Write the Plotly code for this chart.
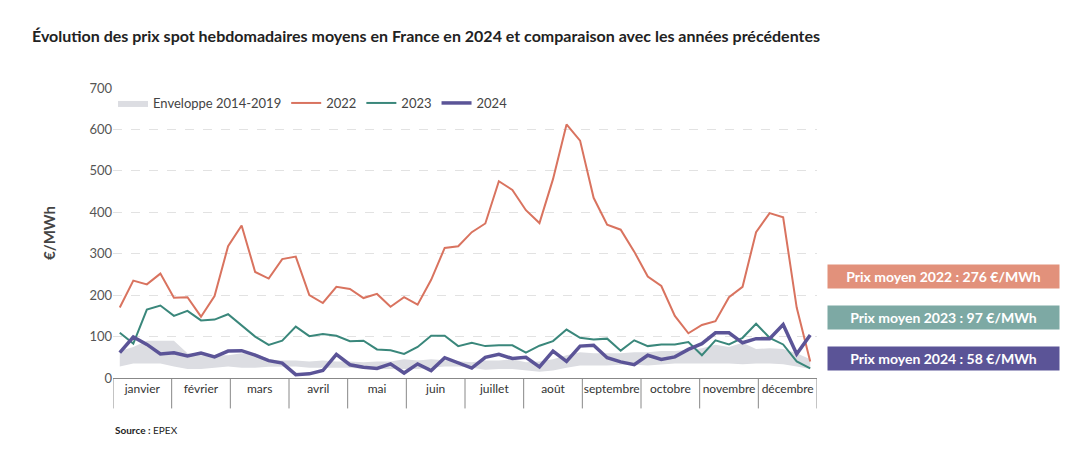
import plotly.graph_objects as go

months = ["janvier", "février", "mars", "avril", "mai", "juin", "juillet", "août",
          "septembre", "octobre", "novembre", "décembre"]
weeks = list(range(52))

p2022 = [170, 235, 226, 252, 194, 195, 148, 198, 318, 368, 256, 240, 287, 293, 200, 181, 220, 215,
         193, 203, 172, 195, 177, 237, 314, 318, 352, 373, 475, 454, 405, 374, 480, 612, 573, 435,
         370, 358, 305, 245, 222, 150, 108, 128, 137, 195, 220, 352, 398, 388, 170, 40]
p2023 = [109, 83, 165, 175, 150, 162, 139, 141, 154, 128, 100, 80, 90, 124, 101, 106, 102, 89,
         90, 69, 67, 58, 75, 102, 102, 77, 85, 77, 79, 79, 61, 78, 89, 117, 97, 93, 95, 66, 91, 77,
         81, 81, 87, 55, 91, 81, 97, 131, 97, 81, 40, 23]
p2024 = [61, 99, 81, 58, 61, 53, 60, 51, 65, 66, 55, 42, 36, 8, 10, 18, 57, 32, 26, 23, 34, 12,
         34, 18, 49, 36, 24, 50, 57, 47, 50, 27, 65, 40, 77, 79, 49, 39, 32, 55, 45, 51, 69, 83,
         109, 109, 85, 95, 95, 129, 58, 104]
env_low = [28, 35, 35, 35, 28, 22, 22, 25, 28, 25, 25, 27, 28, 28, 25, 25, 25, 25, 22, 22, 22, 22,
           22, 25, 28, 28, 25, 20, 22, 22, 18, 15, 18, 25, 30, 30, 30, 32, 32, 30, 32, 35, 35, 35,
           35, 35, 33, 35, 35, 33, 28, 22]
env_high = [65, 75, 90, 90, 90, 60, 55, 55, 55, 60, 60, 45, 42, 42, 40, 42, 40, 40, 38, 40, 40, 45,
            42, 45, 43, 40, 38, 42, 42, 45, 38, 40, 45, 55, 62, 60, 60, 60, 62, 62, 65, 65, 68, 72,
            80, 75, 85, 70, 72, 70, 60, 45]
averages = [("Prix moyen 2022 : 276 €/MWh", "#E2917B"),
            ("Prix moyen 2023 : 97 €/MWh", "#7DA9A4"),
            ("Prix moyen 2024 : 58 €/MWh", "#5B5497")]

FONT = "Lato"
fig = go.Figure()
fig.add_trace(go.Scatter(x=weeks, y=env_low, mode="lines", line=dict(width=0),
                         showlegend=False, hoverinfo="skip"))
fig.add_trace(go.Scatter(x=weeks, y=env_high, mode="lines", line=dict(width=0),
                         fill="tonexty", fillcolor="#DCDDE2", name="Enveloppe 2014-2019"))
fig.add_trace(go.Scatter(x=weeks, y=p2022, mode="lines", line=dict(color="#D9735F", width=2), name="2022"))
fig.add_trace(go.Scatter(x=weeks, y=p2023, mode="lines", line=dict(color="#3A877B", width=2), name="2023"))
fig.add_trace(go.Scatter(x=weeks, y=p2024, mode="lines", line=dict(color="#5B5497", width=3.5), name="2024"))

mw = 52 / 12
centers = [(i + 0.5) * mw - 0.5 for i in range(12)]
shapes = []
for i in range(13):
    xb = i * mw - 0.5
    shapes.append(dict(type="line", xref="x", yref="paper", x0=xb, x1=xb, y0=0, y1=-0.105,
                       line=dict(color="#888", width=1)))

fig.update_layout(
    width=1090, height=467, margin=dict(l=105, r=281, t=80, b=97),
    paper_bgcolor="white", plot_bgcolor="white",
    font=dict(family=FONT, color="#444", size=12),
    xaxis=dict(range=[-0.5, 51.5], tickvals=centers, ticktext=months, showgrid=False,
               showline=True, linecolor="#888", ticks="", zeroline=False,
               tickfont=dict(size=12, color="#333")),
    yaxis=dict(range=[0, 700], dtick=100, showgrid=True, gridcolor="#E2E2E2", griddash="dash",
               zeroline=False, ticks="", tickfont=dict(size=13, color="#555"),
               title=dict(text="<b>€/MWh</b>", font=dict(size=15, color="#444"), standoff=30)),
    legend=dict(orientation="h", x=0.0, y=1.0, xanchor="left", yanchor="top", traceorder="normal",
                font=dict(size=13, color="#444"), bgcolor="rgba(0,0,0,0)"),
    shapes=shapes,
    showlegend=True,
)
fig.add_annotation(text="<b>Évolution des prix spot hebdomadaires moyens en France en 2024 et comparaison avec les années précédentes</b>",
                   xref="paper", yref="paper", x=-0.118, y=1.18, xanchor="left", yanchor="middle",
                   showarrow=False, font=dict(size=16, color="#222"))
fig.add_annotation(text="<b>Source :</b> EPEX", xref="paper", yref="paper", x=0.0, y=-0.18,
                   xanchor="left", yanchor="middle", showarrow=False, font=dict(size=10, color="#222"))
for i, (txt, col) in enumerate(averages):
    fig.add_annotation(text="<b>" + txt + "</b>", xref="paper", yref="paper", x=1.0 + 10 / 704,
                       y=(378 - 276 - 41 * i) / 290, xanchor="left", yanchor="middle", showarrow=False,
                       font=dict(size=14, color="white"), bgcolor=col, borderpad=3,
                       width=225, align="center")
fig.write_html("out.html")
